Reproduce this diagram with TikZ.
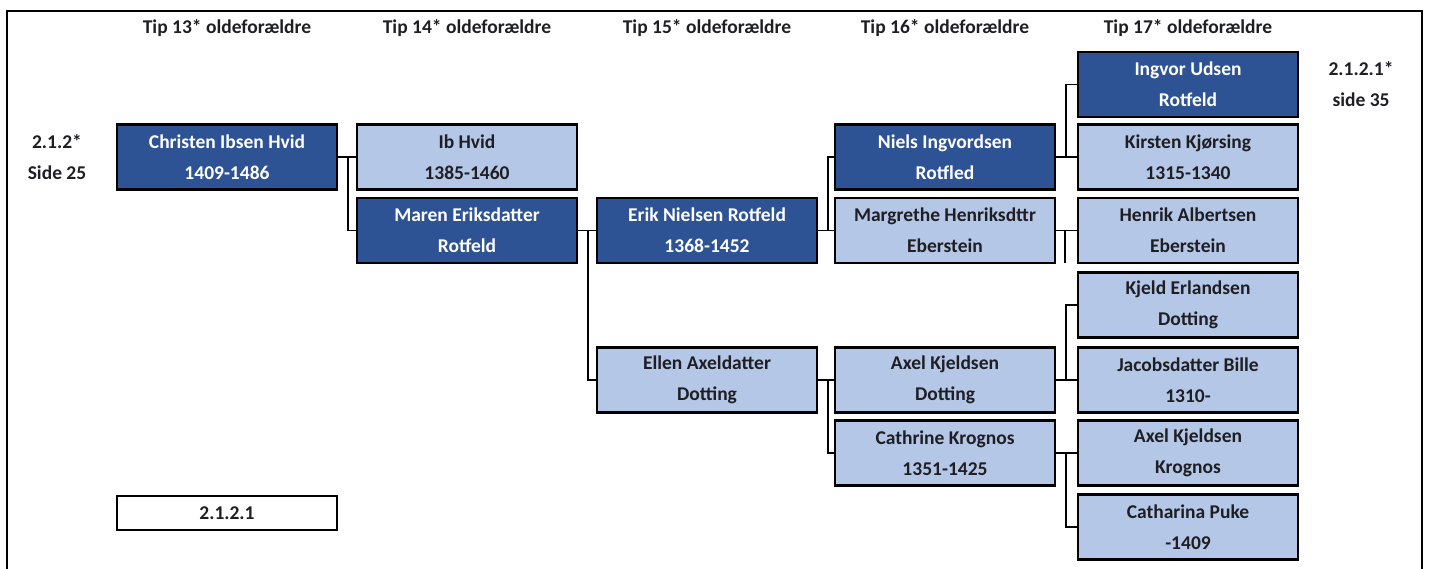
\documentclass[tikz,border=0pt]{standalone}
\usepackage{fontspec}
\setmainfont{Carlito}
\usepackage{tikz}
\usetikzlibrary{positioning}
\definecolor{morkbla}{RGB}{46,83,148}
\definecolor{lysbla}{RGB}{180,199,231}
\definecolor{tekst}{RGB}{30,30,35}

\tikzset{
  person/.style={draw=black, line width=2.4pt, minimum width=220pt, minimum height=65pt,
    inner sep=0pt, align=center, font=\bfseries\fontsize{19.5}{31}\selectfont},
  moerk/.style={person, fill=morkbla, text=white},
  lys/.style={person, fill=lysbla, text=tekst},
  link/.style={line width=1.5pt},
  overskrift/.style={font=\bfseries\fontsize{19.5}{31}\selectfont, text=tekst, align=center},
}

\begin{document}
\begin{tikzpicture}[x=1pt,y=-1pt]
    \useasboundingbox (0,0) rectangle (1431,569);
    \draw[line width=2.2pt] (7,569) -- (7,11) -- (1422,11) -- (1422,569); %ramme
    \foreach \n/\x in {13/227,14/467,15/707,16/945,17/1188}
    \node[overskrift] (tip\n) at (\x,28) {Tip \n* oldeforældre};
    % generation 13-14
    \node[moerk] (christen) at (227,157) {Christen Ibsen Hvid\\1409-1486};
    \node[lys] (ib) at (467,157) {Ib Hvid\\1385-1460};
    \node[moerk] (maren) at (467,230.5) {Maren Eriksdatter\\Rotfeld};
    % generation 15
    \node[moerk] (erik) at (707,230.5) {Erik Nielsen Rotfeld\\1368-1452};
    \node[lys] (ellen) at (707,380) {Ellen Axeldatter\\Dotting};
    % generation 16
    \node[moerk] (niels) at (945,157) {Niels Ingvordsen\\Rotfled};
    \node[lys] (margrethe) at (945,230.5) {Margrethe Henriksdttr\\Eberstein};
    \node[lys] (axeld) at (945,380) {Axel Kjeldsen\\Dotting};
    \node[lys] (cathrine) at (945,453) {Cathrine Krognos\\1351-1425};
    % generation 17
    \node[moerk] (ingvor) at (1188,84.5) {Ingvor Udsen\\Rotfeld};
    \node[lys] (kirsten) at (1188,157) {Kirsten Kjørsing\\1315-1340};
    \node[lys] (henrik) at (1188,230.5) {Henrik Albertsen\\Eberstein};
    \node[lys] (kjeld) at (1188,305) {Kjeld Erlandsen\\Dotting};
    \node[lys] (jacobsdatter) at (1188,380) {Jacobsdatter Bille\\1310-};
    \node[lys] (axelk) at (1188,453) {Axel Kjeldsen\\Krognos};
    \node[lys] (catharina) at (1188,527) {Catharina Puke\\-1409};
    % henvisninger
    \node[overskrift] (ref1) at (57,157) {2.1.2*\\Side 25};
    \node[overskrift] (ref2) at (1361,84.5) {2.1.2.1*\\side 35};
    \node[draw=black, line width=1.4pt, minimum width=220pt, minimum height=34pt, inner sep=0pt,
      font=\bfseries\fontsize{19.5}{31}\selectfont, text=tekst] (nr) at (227,513) {2.1.2.1};
    % forbindelser
    \draw[link] (christen.east) -- ++(10,0) coordinate (f1) |- (ib.west);
    \draw[link] (f1) |- (maren.west);
    \draw[link] (maren.east) -- ++(10,0) coordinate (f2) |- (erik.west);
    \draw[link] (f2) |- (ellen.west);
    \draw[link] (erik.east) -- ++(10,0) coordinate (f3) |- (niels.west);
    \draw[link] (f3) |- (margrethe.west);
    \draw[link] (ellen.east) -- ++(10,0) coordinate (f4) |- (axeld.west);
    \draw[link] (f4) |- (cathrine.west);
    \draw[link] (niels.east) -- ++(10,0) coordinate (f5) |- (ingvor.west);
    \draw[link] (f5) |- (kirsten.west);
    \draw[link] (margrethe.east) -- (henrik.west);
    \coordinate (stump) at (1065,263);
    \draw[link] (margrethe.east -| stump) -- (stump);
    \draw[link] (axeld.east) -- ++(10,0) coordinate (f6) |- (kjeld.west);
    \draw[link] (f6) |- (jacobsdatter.west);
    \draw[link] (cathrine.east) -- ++(10,0) coordinate (f7) |- (axelk.west);
    \draw[link] (f7) |- (catharina.west);
\end{tikzpicture}
\end{document}
